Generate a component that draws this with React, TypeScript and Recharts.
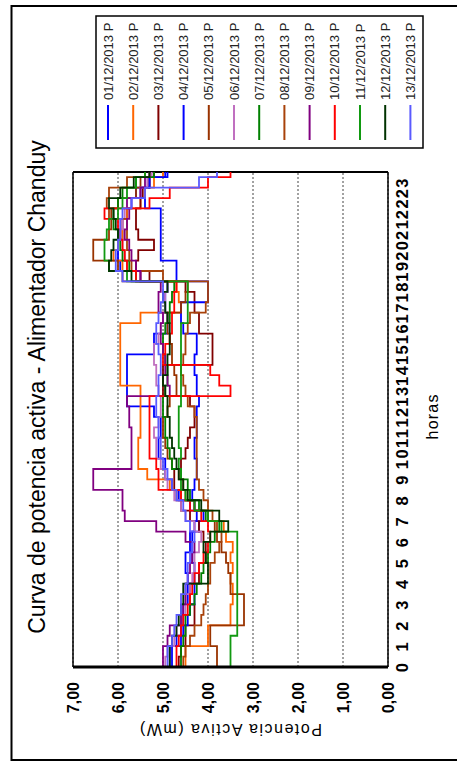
import React from "react";
import { LineChart, Line, XAxis, YAxis, CartesianGrid, ReferenceLine } from "recharts";

// Sample times (hours of the day), one reading every half hour plus the closing quarter
const hours = [
  0, 0.5, 1, 1.5, 2, 2.5, 3, 3.5, 4, 4.5, 5, 5.5, 6, 6.5, 7, 7.5, 8, 8.5, 9, 9.5,
  10, 10.5, 11, 11.5, 12, 12.5, 13, 13.5, 14, 14.5, 15, 15.5, 16, 16.5, 17, 17.5,
  18, 18.5, 19, 19.5, 20, 20.5, 21, 21.5, 22, 22.5, 23, 23.5, 23.75,
];

const hourTicks = [0, 1, 2, 3, 4, 5, 6, 7, 8, 9, 10, 11, 12, 13, 14, 15, 16, 17, 18, 19, 20, 21, 22, 23];
const powerTicks = [0, 1, 2, 3, 4, 5, 6, 7];

const seriesNames = [
  "01/12/2013 P", "02/12/2013 P", "03/12/2013 P", "04/12/2013 P", "05/12/2013 P",
  "06/12/2013 P", "07/12/2013 P", "08/12/2013 P", "09/12/2013 P", "10/12/2013 P",
  "11/12/2013 P", "12/12/2013 P", "13/12/2013 P",
];

const seriesColors = [
  "#0000FF", "#FF6600", "#800000", "#0000FF", "#993300",
  "#C070C0", "#008000", "#A8420A", "#800080", "#FF0000",
  "#119911", "#003300", "#5A5AFF",
];

// Active power (mW) per day
const day01 = [4.85,4.85,4.7,4.6,4.55,4.55,4.45,4.45,4.3,4.3,4.35,4.35,4.4,4.2,4.1,4.4,4.65,4.8,4.95,4.95,5.1,5.1,5.05,5.05,5.2,5.8,5.8,5.8,5.8,5.8,5.2,5.2,4.9,4.9,4.95,4.95,4.9,5.5,5.95,6.0,6.0,5.9,5.9,5.8,5.7,5.5,5.3,4.95,4.95];
const day02 = [4.5,4.5,4.0,4.0,3.5,3.5,3.45,3.45,3.5,3.45,3.5,3.45,3.6,3.65,4.0,4.3,4.6,4.85,5.35,5.55,5.55,5.55,5.5,5.5,5.5,5.5,5.5,5.95,5.95,5.95,5.95,5.95,5.95,5.5,4.6,4.65,4.7,5.5,5.9,6.1,6.0,5.9,5.9,5.8,5.5,5.4,5.2,5.0,5.0];
const day03 = [4.65,4.6,4.5,4.5,4.3,4.3,4.4,4.4,4.2,4.2,4.05,4.05,4.1,4.2,4.4,4.6,4.7,4.75,4.75,4.6,4.5,4.45,4.4,4.3,4.3,4.4,5.0,5.0,5.0,3.9,3.9,3.9,4.2,4.2,4.3,4.3,4.5,5.3,5.6,5.55,5.2,5.55,5.6,5.6,5.5,5.45,5.3,5.2,5.2];
const day04 = [4.8,4.8,4.6,4.55,4.45,4.4,4.3,4.3,4.45,4.5,4.5,4.4,4.35,4.3,4.25,4.3,4.35,4.3,4.25,4.25,4.3,4.3,4.25,4.25,4.25,4.2,4.25,4.25,4.3,4.3,4.25,4.25,4.55,4.6,4.6,4.0,4.0,4.7,4.7,5.05,5.05,5.05,5.05,5.05,5.4,5.6,5.3,4.9,4.9];
const day05 = [3.8,3.8,3.95,3.95,3.2,3.2,3.2,3.5,3.5,3.55,3.6,3.7,3.8,3.85,4.0,4.3,4.5,4.55,4.65,4.8,4.9,4.95,5.0,5.0,4.9,4.85,4.7,4.7,4.75,4.8,4.8,4.85,4.9,4.9,4.6,4.5,4.45,5.9,6.0,6.55,6.55,6.2,6.15,6.15,6.0,5.6,5.5,5.4,5.4];
const day06 = [4.95,4.9,4.75,4.7,4.6,4.5,4.5,4.4,4.35,4.3,4.3,4.2,4.15,4.3,4.5,4.6,4.75,4.9,4.95,5.05,5.15,5.15,5.2,5.1,5.05,5.05,5.1,5.15,5.15,5.2,5.2,5.1,5.05,5.0,4.95,4.95,4.9,5.5,5.8,5.85,5.9,5.95,5.9,5.85,5.7,5.5,5.35,5.25,5.25];
const day07 = [4.6,4.6,4.55,4.5,4.5,4.4,4.3,4.25,4.15,4.1,4.0,3.95,3.85,3.75,4.05,4.2,4.4,4.45,4.6,4.8,4.85,4.9,4.95,4.95,5.0,5.0,4.95,4.9,4.9,4.95,5.0,5.0,4.95,4.85,4.85,4.8,4.75,5.6,5.75,5.9,5.95,6.0,6.1,6.1,6.0,5.9,5.6,5.2,5.2];
const day08 = [4.55,4.5,4.4,4.3,4.15,4.1,4.05,4.0,3.95,3.95,3.85,3.75,3.7,3.8,3.9,4.0,4.1,4.2,4.25,4.25,4.25,4.25,4.25,4.25,4.3,4.45,4.5,4.55,4.6,4.55,4.5,4.5,4.45,4.4,4.05,4.0,4.0,5.0,5.7,5.75,5.8,5.8,5.8,6.2,6.25,6.2,5.8,5.3,5.3];
const day09 = [5.0,5.0,4.9,4.85,4.6,4.55,4.5,4.5,4.45,4.4,4.35,4.3,4.5,5.15,5.85,5.9,5.9,6.55,6.55,5.7,5.7,5.7,5.7,5.75,5.75,5.8,4.85,4.9,4.95,4.95,5.0,5.05,5.05,5.0,5.1,5.1,5.05,5.5,5.6,5.7,5.75,5.85,5.8,5.75,5.8,5.5,5.4,5.3,5.3];
const day10 = [4.7,4.7,4.65,4.6,4.55,4.45,4.4,4.35,4.3,4.2,4.1,4.0,3.95,4.0,4.15,4.4,4.6,5.1,5.1,5.15,5.3,5.3,5.3,5.3,5.3,5.3,3.5,3.75,3.95,5.0,4.95,4.85,4.8,4.8,4.75,4.75,4.7,5.6,5.8,5.85,5.9,5.95,6.0,6.3,5.3,4.85,4.0,3.5,3.5];
const day11 = [3.5,3.5,3.5,3.35,3.35,3.35,3.35,3.35,3.35,3.35,3.35,3.35,3.35,3.7,4.0,4.3,4.5,4.6,4.6,4.65,4.6,4.65,4.65,4.65,4.65,4.6,4.6,4.6,4.6,4.6,4.6,4.6,4.6,4.45,4.45,4.45,4.45,5.8,6.2,6.3,6.3,6.25,6.2,6.0,5.9,5.8,5.6,5.4,5.4];
const day12 = [4.85,4.85,4.8,4.7,4.65,4.6,4.55,4.55,4.0,4.0,4.05,4.1,3.95,3.55,3.75,4.15,4.45,4.55,4.65,4.7,4.75,4.8,4.85,4.85,4.9,4.9,4.95,5.0,4.9,4.9,4.85,4.85,4.85,4.9,4.95,5.0,4.9,5.7,6.2,6.15,6.1,6.0,6.05,6.1,6.2,5.95,5.65,5.3,5.3];
const day13 = [4.9,4.9,4.8,4.75,4.7,4.6,4.6,4.5,4.45,4.45,4.4,4.35,4.3,4.4,4.5,4.55,4.7,4.8,4.9,5.0,5.05,5.05,5.1,5.1,5.15,5.15,5.1,5.1,5.05,5.05,5.1,5.15,5.15,5.1,5.05,5.0,5.0,5.9,6.05,6.05,6.0,5.95,5.95,5.9,5.7,5.4,4.2,3.8,3.8];

const seriesValues = [day01, day02, day03, day04, day05, day06, day07, day08, day09, day10, day11, day12, day13];

const rows = hours.map((h, i) => {
  const row: Record<string, number> = { h };
  seriesValues.forEach((vals, k) => {
    row["s" + k] = vals[i];
  });
  return row;
});

const FONT = "'Liberation Sans', Arial, sans-serif";
const W = 761;
const H = 457;

const formatPower = (v: number) => v.toFixed(2).replace(".", ",");

const HourTick = (props: any) => {
  const { x, y, payload } = props;
  return (
    <text
      x={x}
      y={y}
      dy="0.71em"
      textAnchor="middle"
      fontFamily={FONT}
      fontSize={16.5}
      fontWeight={700}
      letterSpacing={1.5}
      fill="#000"
    >
      {payload.value}
    </text>
  );
};

export default function App() {
  return (
    <div
      style={{
        position: "fixed",
        left: 0,
        top: 0,
        width: H,
        height: W,
        overflow: "hidden",
        background: "#fff",
      }}
    >
      <div
        style={{
          position: "absolute",
          left: 0,
          top: 0,
          width: W,
          height: H,
          transformOrigin: "0 0",
          transform: `translate(0px, ${W}px) rotate(-90deg)`,
        }}
      >
        <LineChart
          width={W}
          height={H}
          data={rows}
          margin={{ top: 73, right: 172, left: 34, bottom: 39 }}
        >
          <CartesianGrid
            horizontal={true}
            vertical={false}
            stroke="#444"
            strokeDasharray="2 2"
            horizontalValues={powerTicks}
          />
          <XAxis
            dataKey="h"
            type="number"
            domain={[0, 23.75]}
            ticks={hourTicks}
            interval={0}
            height={30}
            tickLine={false}
            tickSize={0}
            tickMargin={8}
            axisLine={{ stroke: "#000", strokeWidth: 1.5 }}
            tick={<HourTick />}
          />
          <YAxis
            type="number"
            domain={[0, 7]}
            ticks={powerTicks}
            interval={0}
            width={60}
            tickLine={false}
            tickSize={0}
            tickMargin={15}
            tickFormatter={formatPower}
            axisLine={{ stroke: "#000", strokeWidth: 3 }}
            tick={{ fontFamily: FONT, fontSize: 16, fontWeight: 700, fill: "#000" }}
          />
          <ReferenceLine y={7} stroke="#000" strokeWidth={1.5} />
          <ReferenceLine x={23.75} stroke="#000" strokeWidth={2} />
          {seriesNames.map((name, k) => (
            <Line
              key={name}
              name={name}
              dataKey={"s" + k}
              type="stepAfter"
              stroke={seriesColors[k]}
              strokeWidth={1.8}
              dot={false}
              isAnimationActive={false}
            />
          ))}
        </LineChart>
        <svg
          width={W}
          height={H}
          style={{ position: "absolute", left: 0, top: 0, pointerEvents: "none" }}
        >
          <rect x={1} y={11.5} width={754} height={520} fill="none" stroke="#000" strokeWidth={2} />
          <text x={374} y={45} textAnchor="middle" fontFamily={FONT} fontSize={23} fill="#000">
            Curva de potencia activa - Alimentador Chanduy
          </text>
          <text
            transform="translate(31.5,231) rotate(-90)"
            textAnchor="middle"
            dominantBaseline="central"
            fontFamily={FONT}
            fontSize={16}
            textLength={182}
            fill="#000"
          >
            Potencia Activa (mW)
          </text>
          <text
            x={344}
            y={438}
            textAnchor="middle"
            fontFamily={FONT}
            fontSize={16}
            textLength={45}
            fill="#000"
          >
            horas
          </text>
          <rect x={613} y={96} width={132} height={327} fill="#fff" stroke="#000" strokeWidth={1.5} />
          {seriesNames.map((name, k) => {
            const cy = 108 + k * 25.2;
            return (
              <g key={name}>
                <line x1={621} x2={656} y1={cy} y2={cy} stroke={seriesColors[k]} strokeWidth={2} />
                <text
                  x={661}
                  y={cy}
                  dominantBaseline="central"
                  fontFamily={FONT}
                  fontSize={13}
                  fill="#222"
                >
                  {name}
                </text>
              </g>
            );
          })}
        </svg>
      </div>
    </div>
  );
}
